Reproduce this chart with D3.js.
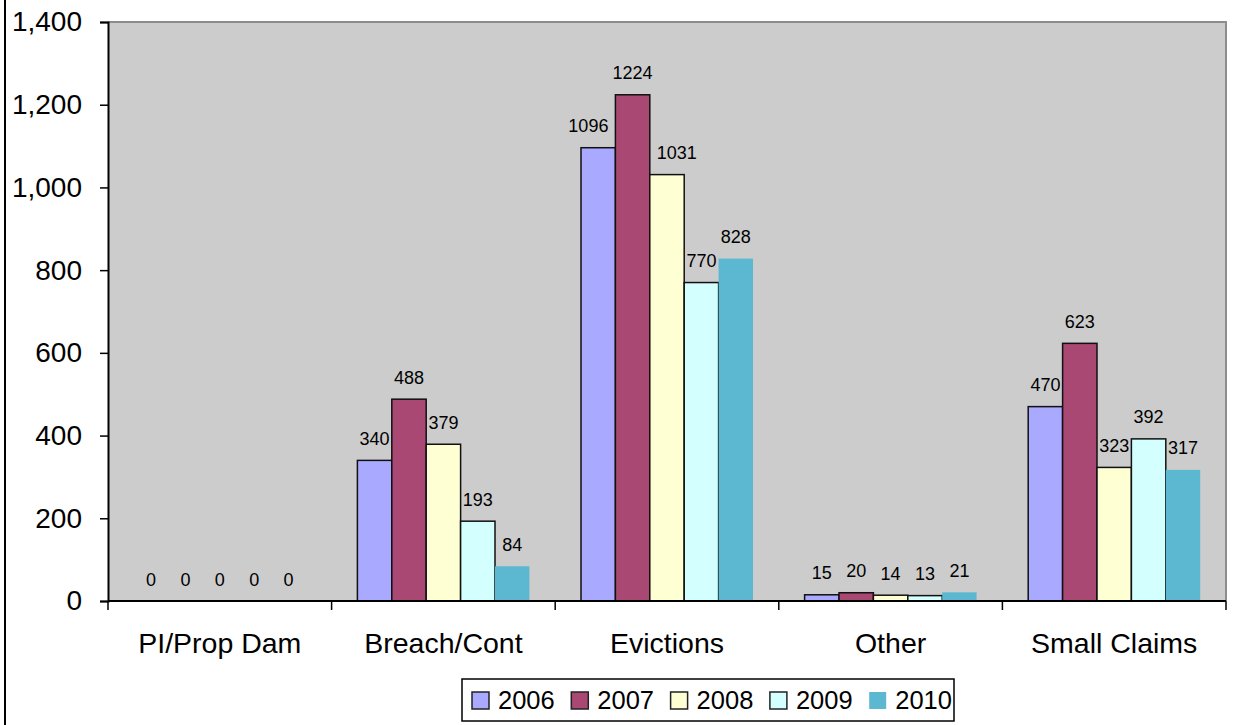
<!DOCTYPE html>
<html>
<head>
<meta charset="utf-8">
<script src="https://cdn.jsdelivr.net/npm/d3@7"></script>
<style>
  html, body { margin: 0; padding: 0; background: #ffffff; }
  svg { display: block; font-family: Arial, "Liberation Sans", sans-serif; }
</style>
</head>
<body>
<svg id="chart" width="1235" height="725"></svg>
<script>
// Case types and filing years
const categories = ["PI/Prop Dam", "Breach/Cont", "Evictions", "Other", "Small Claims"];
const years = ["2006", "2007", "2008", "2009", "2010"];

// Filings per case type, one array per year
const values2006 = [0, 340, 1096, 15, 470];
const values2007 = [0, 488, 1224, 20, 623];
const values2008 = [0, 379, 1031, 14, 323];
const values2009 = [0, 193, 770, 13, 392];
const values2010 = [0, 84, 828, 21, 317];

const yTicks = [0, 200, 400, 600, 800, 1000, 1200, 1400];

const seriesValues = [values2006, values2007, values2008, values2009, values2010];
const colors = ["#a9a9ff", "#a94873", "#ffffd4", "#d4ffff", "#5bb8d0"];
const outlined = [true, true, true, true, false];

const svg = d3.select("#chart");
const plot = { left: 108, right: 1226, top: 22, bottom: 601 };

// outer frame edge
svg.append("line")
  .attr("x1", 5).attr("x2", 5).attr("y1", 0).attr("y2", 725)
  .attr("stroke", "#000").attr("stroke-width", 2);

const x = d3.scaleBand().domain(categories).range([plot.left, plot.right]).padding(0);
const xs = d3.scaleBand().domain(years).range([0, x.bandwidth()])
  .paddingInner(0).paddingOuter(0.75);
const y = d3.scaleLinear().domain([0, 1400]).range([plot.bottom, plot.top]);

// plot area background
svg.append("rect")
  .attr("x", plot.left).attr("y", plot.top)
  .attr("width", plot.right - plot.left).attr("height", plot.bottom - plot.top)
  .attr("fill", "#cccccc");
svg.append("path")
  .attr("d", `M${plot.left},${plot.top}H${plot.right}V${plot.bottom}`)
  .attr("fill", "none").attr("stroke", "#8c8c8c").attr("stroke-width", 2);

// bars
const rows = [];
categories.forEach((c, ci) => {
  years.forEach((yr, si) => {
    rows.push({ cat: c, year: yr, si, value: seriesValues[si][ci] });
  });
});

const bars = svg.append("g");
bars.selectAll("rect").data(rows).join("rect")
  .attr("x", d => x(d.cat) + xs(d.year))
  .attr("y", d => y(d.value))
  .attr("width", xs.bandwidth())
  .attr("height", d => y(0) - y(d.value))
  .attr("fill", d => colors[d.si])
  .attr("stroke", d => outlined[d.si] ? "#111" : "none")
  .attr("stroke-width", 1.5);

// axes
const yAxis = svg.append("g")
  .attr("transform", `translate(${plot.left},0)`)
  .call(d3.axisLeft(y).tickValues(yTicks).tickSize(8).tickPadding(18).tickFormat(d3.format(",")));
yAxis.select(".domain").attr("stroke", "#000").attr("stroke-width", 2);
yAxis.selectAll(".tick line").attr("stroke", "#000").attr("stroke-width", 1.5);
yAxis.selectAll(".tick text")
  .attr("font-size", 28).attr("fill", "#000")
  .attr("font-family", "Arial, 'Liberation Sans', sans-serif");

const boundaries = categories.map(c => x(c)).concat([plot.right]);
const xAxisG = svg.append("g");
xAxisG.selectAll("line.tick").data(boundaries).join("line")
  .attr("class", "tick")
  .attr("x1", d => d).attr("x2", d => d)
  .attr("y1", plot.bottom).attr("y2", plot.bottom + 9)
  .attr("stroke", "#000").attr("stroke-width", 1.5);
xAxisG.append("line")
  .attr("x1", plot.left).attr("x2", plot.right)
  .attr("y1", plot.bottom).attr("y2", plot.bottom)
  .attr("stroke", "#000").attr("stroke-width", 2);
xAxisG.selectAll("text").data(categories).join("text")
  .attr("x", d => x(d) + x.bandwidth() / 2)
  .attr("y", 653)
  .attr("text-anchor", "middle")
  .attr("font-size", 28.5)
  .attr("fill", "#000")
  .text(d => d);

// value labels, nudged sideways when a taller neighbouring bar would cover them
const labelSize = 18;
const bw = xs.bandwidth();
const labelG = svg.append("g");
rows.forEach(d => {
  const txt = String(d.value);
  const w = txt.length * labelSize * 0.556;
  const barX = x(d.cat) + xs(d.year);
  let cx = barX + bw / 2;
  const baseline = y(d.value) - 15.5;
  const list = seriesValues.map(s => s[categories.indexOf(d.cat)]);
  const gap = 7;
  if (d.si < years.length - 1) {
    const nTop = y(list[d.si + 1]);
    const nLeft = barX + bw;
    if (nTop < baseline && cx + w / 2 > nLeft) cx -= (cx + w / 2 - nLeft) + gap;
  }
  if (d.si > 0) {
    const pTop = y(list[d.si - 1]);
    const pRight = barX;
    if (pTop < baseline && cx - w / 2 < pRight) cx += (pRight - (cx - w / 2)) + gap;
  }
  labelG.append("text")
    .attr("x", cx).attr("y", baseline)
    .attr("text-anchor", "middle")
    .attr("font-size", labelSize)
    .attr("fill", "#000")
    .text(txt);
});

// legend
const legend = svg.append("g");
legend.append("rect")
  .attr("x", 462).attr("y", 679).attr("width", 492).attr("height", 42)
  .attr("fill", "#fff").attr("stroke", "#000").attr("stroke-width", 1.5);
const item = legend.selectAll("g.item").data(years).join("g")
  .attr("class", "item")
  .attr("transform", (d, i) => `translate(${472 + i * 99.3},0)`);
item.append("rect")
  .attr("x", 0).attr("y", 692).attr("width", 17).attr("height", 17)
  .attr("fill", (d, i) => colors[i])
  .attr("stroke", (d, i) => outlined[i] ? "#222" : "none")
  .attr("stroke-width", 1.5);
item.append("text")
  .attr("x", 26).attr("y", 709)
  .attr("font-size", 25.5)
  .attr("fill", "#000")
  .text(d => d);
</script>
</body>
</html>
